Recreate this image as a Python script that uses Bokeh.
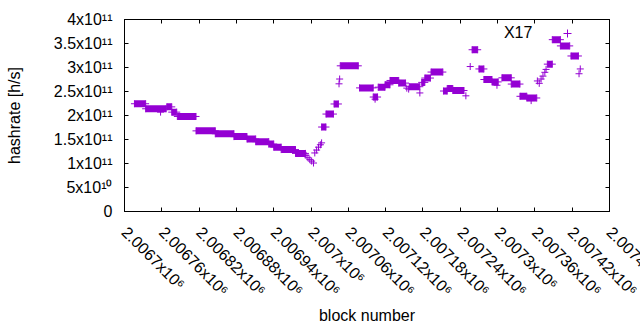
from math import pi
from bokeh.plotting import figure
from bokeh.models import (FixedTicker, LinearAxis, Range1d, Legend, LegendItem,
                          ColumnDataSource, Label)
from bokeh.embed import file_html
from bokeh.resources import INLINE

# ---- data ----
# runs of blocks with (nearly) constant hashrate: first block, last block, hashrate [1e11 h/s]
seg_start = [2006716, 2006734, 2006768, 2006776, 2006785, 2006815, 2006846, 2006876,
             2006897, 2006911, 2006932, 2006940, 2006952, 2006975, 2007017, 2007024,
             2007037, 2007047, 2007078, 2007100, 2007108, 2007119, 2007127, 2007141,
             2007158, 2007178, 2007183, 2007193, 2007213, 2007219, 2007228, 2007259,
             2007270, 2007278, 2007291, 2007307, 2007322, 2007336, 2007347, 2007380,
             2007388, 2007401, 2007418]
seg_end = [2006734, 2006767, 2006776, 2006784, 2006815, 2006846, 2006876, 2006897,
           2006911, 2006932, 2006940, 2006952, 2006975, 2006991, 2007024, 2007036,
           2007044, 2007076, 2007100, 2007107, 2007119, 2007127, 2007141, 2007152,
           2007175, 2007183, 2007192, 2007212, 2007219, 2007228, 2007246, 2007268,
           2007278, 2007291, 2007301, 2007322, 2007336, 2007347, 2007363, 2007388,
           2007401, 2007416, 2007430]
seg_hash = [2.245, 2.14, 2.18, 2.07, 1.98, 1.68, 1.62, 1.56,
            1.51, 1.455, 1.405, 1.34, 1.29, 1.21, 1.76, 2.03,
            2.24, 3.035, 2.575, 2.385, 2.59, 2.64, 2.73, 2.675,
            2.60, 2.69, 2.78, 2.905, 2.51, 2.56, 2.52, 3.37,
            2.97, 2.75, 2.70, 2.785, 2.655, 2.40, 2.365, 3.07,
            3.58, 3.45, 3.24]
# single blocks
pt_block = [2006758, 2006992, 2006995, 2006998, 2007001, 2007004, 2007006, 2007009,
            2007012, 2007015, 2007017, 2007045, 2007046, 2007103, 2007154, 2007157,
            2007175, 2007249, 2007256, 2007299, 2007354, 2007364, 2007367, 2007370,
            2007373, 2007376, 2007378, 2007431, 2007433]
pt_hash = [2.07, 1.17, 1.12, 1.08, 1.05, 1.01, 1.22, 1.28,
           1.34, 1.39, 1.43, 2.66, 2.76, 2.34, 2.57, 2.55,
           2.47, 2.41, 3.02, 2.63, 2.31, 2.72, 2.67, 2.76,
           2.82, 2.90, 2.96, 2.87, 2.97]

x_ticks = [2006700, 2006760, 2006820, 2006880, 2006940, 2007000, 2007060,
           2007120, 2007180, 2007240, 2007300, 2007360, 2007420, 2007480]
x_tick_labels = ["2.0067x10⁶", "2.00676x10⁶", "2.00682x10⁶", "2.00688x10⁶",
                 "2.00694x10⁶", "2.007x10⁶", "2.00706x10⁶", "2.00712x10⁶",
                 "2.00718x10⁶", "2.00724x10⁶", "2.0073x10⁶", "2.00736x10⁶",
                 "2.00742x10⁶", "2.00748x10⁶"]
y_ticks = [0, 5e10, 1e11, 1.5e11, 2e11, 2.5e11, 3e11, 3.5e11, 4e11]
y_tick_labels = ["0", "5x10¹⁰", "1x10¹¹", "1.5x10¹¹", "2x10¹¹", "2.5x10¹¹",
                 "3x10¹¹", "3.5x10¹¹", "4x10¹¹"]

series_name = "X17"
COLOR = "#9400d3"
FONT = "Liberation Sans"

# ---- figure ----
p = figure(width=640, height=330, output_backend="svg", toolbar_location=None,
           x_range=Range1d(x_ticks[0], x_ticks[-1]), y_range=Range1d(y_ticks[0], y_ticks[-1]),
           min_border_left=124, min_border_right=31, min_border_top=19, min_border_bottom=119)
p.xgrid.visible = False
p.ygrid.visible = False
p.outline_line_color = "black"
p.outline_line_width = 1
p.background_fill_color = "white"
p.border_fill_color = "white"

seg_src = ColumnDataSource(dict(
    xc=[(a + b) / 2 for a, b in zip(seg_start, seg_end)],
    w=[b - a for a, b in zip(seg_start, seg_end)],
    y=[h * 1e11 for h in seg_hash]))
p.rect(x="xc", y="y", width="w", height=7, height_units="screen", source=seg_src,
       fill_color=COLOR, line_color=None)

end_src = ColumnDataSource(dict(
    x=seg_start + seg_end + pt_block,
    y=[h * 1e11 for h in seg_hash + seg_hash + pt_hash]))
pts = p.scatter(x="x", y="y", source=end_src, marker="cross", size=7,
                line_color=COLOR, line_width=1)

# axes
# (ticker order: the last tick is not listed last, so that Bokeh does not pull its
#  label back inside the canvas -- it runs off the page edge as in the original)
p.xaxis.ticker = FixedTicker(ticks=x_ticks[:1] + x_ticks[-1:] + x_ticks[1:-1])
p.xaxis.major_label_overrides = dict(zip(x_ticks, x_tick_labels))
p.xaxis.major_label_orientation = -pi / 4
p.xaxis.axis_label = "block number"
p.yaxis.ticker = FixedTicker(ticks=y_ticks)
p.yaxis.major_label_overrides = dict(zip(y_ticks, y_tick_labels))
p.yaxis.axis_label = "hashrate [h/s]"
for ax in (p.xaxis[0], p.yaxis[0]):
    ax.major_tick_in = 4
    ax.major_tick_out = 0
    ax.minor_tick_line_color = None
    ax.axis_line_color = "black"
    ax.major_tick_line_color = "black"
    ax.major_label_text_font = FONT
    ax.major_label_text_font_size = "16px"
    ax.major_label_text_color = "black"
    ax.axis_label_text_font = FONT
    ax.axis_label_text_font_size = "16px"
    ax.axis_label_text_font_style = "normal"
    ax.axis_label_text_color = "black"
p.yaxis.major_label_standoff = 12
p.yaxis.axis_label_standoff = 28
p.xaxis.major_label_standoff = 18
p.xaxis.axis_label_standoff = -1

for side, ticks in (("above", x_ticks), ("right", y_ticks)):
    ax = LinearAxis(ticker=FixedTicker(ticks=ticks),
                    major_label_overrides={t: "" for t in ticks},
                    major_label_text_font_size="0px", major_label_standoff=0,
                    major_tick_in=4, major_tick_out=0, minor_tick_line_color=None,
                    axis_line_color="black", major_tick_line_color="black")
    p.add_layout(ax, side)

# key: title on the left, sample point on the right (gnuplot style)
legend = Legend(items=[LegendItem(label="", renderers=[pts])],
                location=(433, 168), glyph_width=20, glyph_height=20,
                label_width=0, label_height=20, label_standoff=0,
                label_text_font=FONT, label_text_font_size="16px",
                padding=0, margin=0, spacing=0,
                border_line_color=None, background_fill_alpha=0)
p.add_layout(legend)
p.add_layout(Label(x=2007356, y=3.73e11, text=series_name, text_align="right",
                   text_baseline="middle", text_font=FONT, text_font_size="16px",
                   text_color="black"))

open("out.html", "w").write(file_html(p, INLINE))
